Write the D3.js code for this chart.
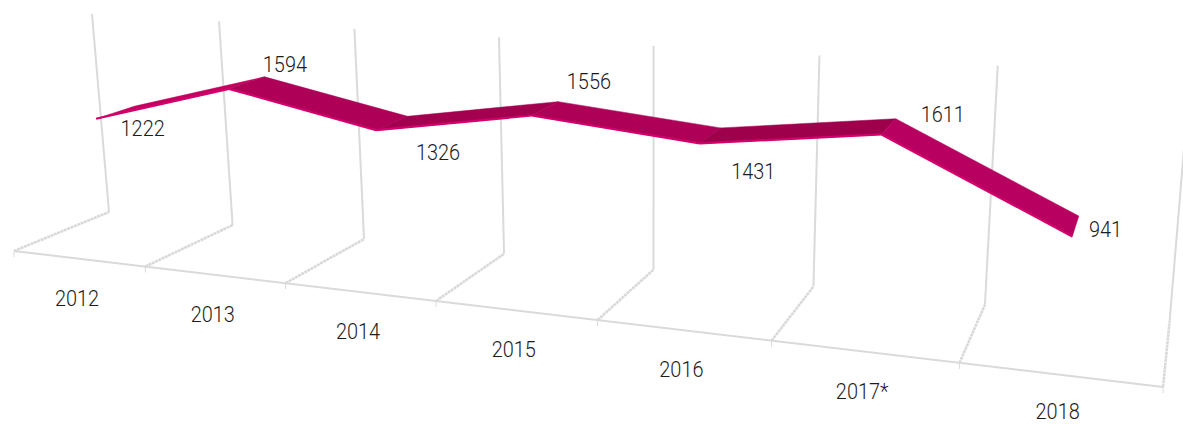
<!DOCTYPE html>
<html><head><meta charset="utf-8">
<script src="https://cdn.jsdelivr.net/npm/d3@7"></script>
<style>html,body{margin:0;background:#fff}svg{display:block}
text{font-family:Roboto,sans-serif;font-weight:300;font-size:22px;fill:#1c1c1c}</style></head>
<body><svg id="c" width="1183" height="424"></svg>
<script>
const categories=["2012","2013","2014","2015","2016","2017*","2018"];
const values=[1222,1594,1326,1556,1431,1611,941];
const valueLabelOffsets=[[27,24],[38,-11],[46,37],[44,-20],[43,43],[54,-5],[30,10.5]];
const segmentColors=["#c4005f","#ad0056","#a3004f","#ad0056","#9e004c","#b80060"];

const xWorld=d3.scaleBand().domain(categories).range([0,1]);
const zWorld=d3.scaleLinear().domain([0,2010]).range([0,1]);
const ribbonDepth=[0.295,0.71];
// perspective camera: world (t along front, y depth, z height) -> screen
function project(t,y,z){
  const d=1-0.226*t+0.085*y-0.033*z;
  return [(14+886.2*t+104.27*y-21.5*z)/d,(251+48.54*t-20.98*y-215.3*z)/d];
}
const svg=d3.select("#c");
const grid=svg.append("g").attr("fill","none").attr("stroke","#dadada").attr("stroke-width",2);
const line=d3.line();
const edges=d3.range(categories.length+1).map(i=>i/categories.length);
edges.forEach(t=>{
  grid.append("path").attr("d",line([project(t,0,0),project(t,1,0)]))
    .attr("stroke-width",2.6).attr("stroke","#d9d9d9").attr("stroke-dasharray","3 0.6");
  grid.append("path").attr("d",line([project(t,1,0),project(t,1,1)]));
  const p=project(t,0,0);
  grid.append("path").attr("d",line([p,[p[0],p[1]+6]])).attr("stroke-width",1);
});
grid.append("path").attr("d",line([project(0,0,0),project(1,0,0)]));

const centre=c=>xWorld(c)+xWorld.bandwidth()/2;
const ribbon=svg.append("g");
categories.slice(1).forEach((c,i)=>{
  const a=categories[i],va=zWorld(values[i]),vb=zWorld(values[i+1]);
  const ta=centre(a),tb=centre(c);
  ribbon.append("path").attr("d",line([
    project(ta,ribbonDepth[0],va),project(tb,ribbonDepth[0],vb),
    project(tb,ribbonDepth[1],vb),project(ta,ribbonDepth[1],va)])+"Z")
    .attr("fill",segmentColors[i]).attr("stroke",segmentColors[i]).attr("stroke-width",0.5);
  ribbon.append("path").attr("d",line([project(ta,ribbonDepth[0],va),project(tb,ribbonDepth[0],vb)]))
    .attr("fill","none").attr("stroke","#d4006c").attr("stroke-width",2.2);
});
const labels=svg.append("g");
function squeezed(sel){sel.each(function(){
  const w=this.getComputedTextLength();
  this.setAttribute("textLength",w*0.905);
  this.setAttribute("lengthAdjust","spacingAndGlyphs");
});}
categories.forEach((c,i)=>{
  const p=project(centre(c),0,0);
  labels.append("text").attr("x",p[0]-1.5).attr("y",Math.min(p[1]+47,418.5)).attr("text-anchor","middle").text(c).call(squeezed);
  const m=project(centre(c),0.5,zWorld(values[i]));
  labels.append("text").attr("x",m[0]+valueLabelOffsets[i][0]).attr("y",m[1]+valueLabelOffsets[i][1])
    .attr("text-anchor","middle").text(values[i]).call(squeezed);
});
</script></body></html>
